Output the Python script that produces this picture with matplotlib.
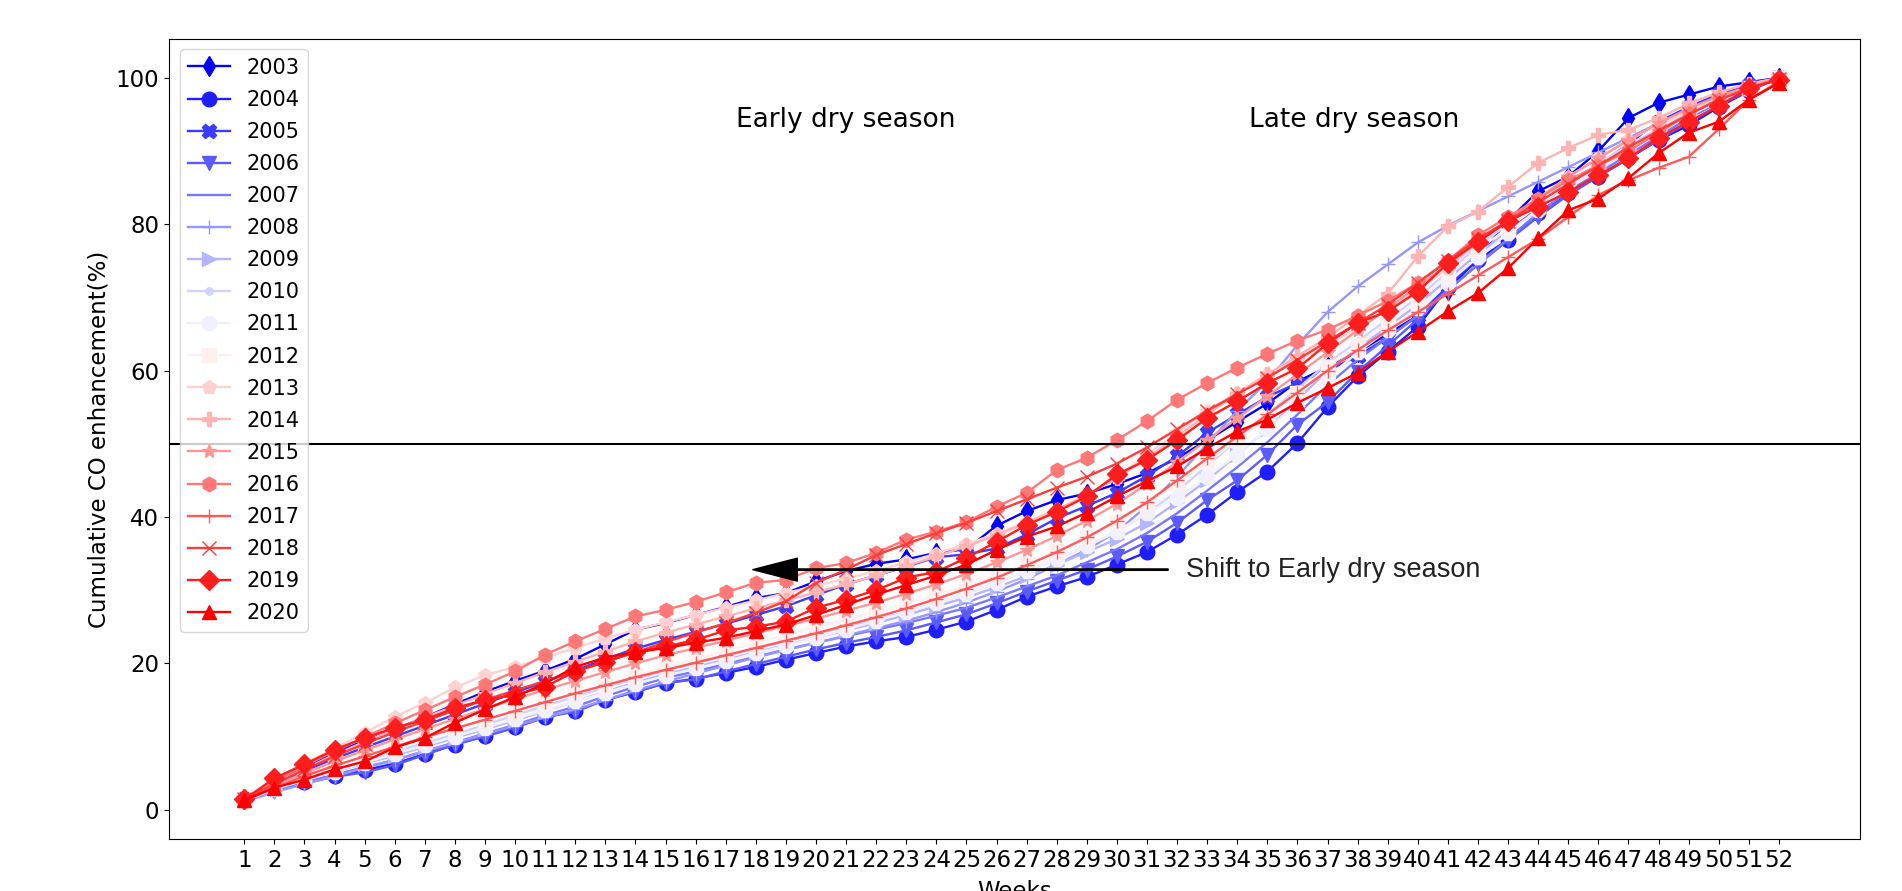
import matplotlib
matplotlib.use("Agg")
import matplotlib.pyplot as plt
import numpy as np

weeks = list(range(1, 53))
years = [str(y) for y in range(2003, 2021)]
markers = ['d', 'o', 'X', 'v', ',', '+', '>', '.', '8', 's', 'p', 'P', '*', 'h', '+', 'x', 'D', '^']

y2003 = [1.5, 3.8, 5.9, 7.8, 9.4, 11.0, 12.6, 14.4, 16.1, 17.6, 19.0, 20.6, 22.6, 24.6, 25.5, 26.6, 27.7, 28.9, 29.6, 31.2,
         32.6, 33.6, 34.2, 35.1, 35.6, 38.8, 40.8, 42.3, 43.2, 44.5, 46.0, 48.0, 50.5, 53.0, 55.5, 58.5, 60.5, 62.5, 65.0, 67.5,
         71.0, 75.5, 80.5, 84.5, 86.5, 90.0, 94.5, 96.6, 97.7, 98.8, 99.4, 100.0]
y2004 = [1.3, 2.8, 3.8, 4.6, 5.4, 6.3, 7.6, 8.9, 10.1, 11.3, 12.6, 13.5, 15.0, 16.1, 17.3, 17.9, 18.7, 19.5, 20.5, 21.4,
         22.3, 23.0, 23.6, 24.6, 25.7, 27.3, 29.1, 30.5, 31.8, 33.5, 35.2, 37.6, 40.3, 43.4, 46.2, 50.1, 55.0, 59.2, 62.6, 66.0,
         71.4, 75.1, 77.9, 81.5, 84.3, 86.5, 89.0, 91.5, 93.5, 96.0, 98.2, 100.0]
y2005 = [1.4, 3.4, 5.3, 7.0, 8.5, 10.0, 11.5, 13.0, 14.5, 16.0, 17.5, 19.0, 20.6, 22.0, 23.2, 24.3, 25.4, 26.6, 27.8, 29.3,
         30.8, 32.0, 33.2, 34.5, 34.9, 35.7, 37.6, 39.8, 41.5, 43.3, 45.6, 48.3, 51.5, 54.0, 56.4, 58.3, 60.0, 62.0, 64.5, 67.5,
         71.5, 75.5, 79.0, 82.5, 85.5, 88.0, 91.0, 94.0, 96.0, 97.8, 99.0, 100.0]
y2006 = [1.2, 2.6, 3.6, 4.5, 5.1, 6.1, 7.5, 8.9, 10.0, 11.2, 12.7, 13.4, 15.0, 16.1, 17.3, 17.8, 18.9, 19.9, 20.9, 21.9,
         22.8, 23.6, 24.5, 25.6, 26.7, 28.2, 29.8, 31.3, 32.8, 34.6, 36.6, 39.2, 42.3, 45.0, 48.5, 52.6, 55.7, 59.8, 63.4, 67.0,
         71.0, 74.5, 77.8, 81.0, 84.0, 86.5, 89.0, 91.5, 94.0, 96.2, 98.3, 100.0]
y2007 = [1.2, 2.7, 3.8, 4.8, 5.8, 6.8, 8.0, 9.2, 10.4, 11.6, 12.9, 14.1, 15.5, 16.8, 18.0, 18.9, 19.9, 20.9, 21.9, 22.8,
         23.7, 24.6, 25.5, 26.5, 27.6, 29.0, 30.5, 32.0, 33.8, 35.6, 37.8, 40.5, 43.6, 46.8, 50.2, 54.0, 58.0, 61.5, 64.5, 67.5,
         71.0, 74.5, 78.0, 81.5, 84.5, 87.0, 89.5, 92.0, 94.5, 96.6, 98.5, 100.0]
y2008 = [1.1, 2.4, 3.5, 4.6, 5.7, 6.8, 8.0, 9.1, 10.3, 11.5, 12.6, 13.7, 15.0, 16.3, 17.5, 18.6, 19.7, 20.8, 21.8, 22.8,
         23.8, 24.8, 25.8, 27.0, 28.3, 29.8, 31.5, 33.5, 35.5, 38.0, 41.5, 45.5, 50.0, 54.5, 58.5, 63.5, 68.0, 71.5, 74.5, 77.5,
         79.8, 81.8, 83.8, 85.8, 87.8, 89.8, 91.8, 93.8, 95.5, 97.2, 98.8, 100.0]
y2009 = [1.3, 2.9, 4.1, 5.2, 6.3, 7.4, 8.6, 9.8, 11.0, 12.2, 13.5, 14.8, 16.1, 17.4, 18.5, 19.5, 20.5, 21.5, 22.5, 23.5,
         24.5, 25.5, 26.6, 27.8, 29.0, 30.4, 31.9, 33.5, 35.2, 37.0, 39.2, 42.0, 45.0, 48.5, 52.0, 56.0, 60.0, 63.0, 66.0, 69.0,
         72.5, 76.0, 79.0, 82.0, 85.0, 87.5, 90.0, 92.5, 94.8, 96.8, 98.5, 100.0]
y2010 = [1.3, 3.0, 4.3, 5.5, 6.7, 7.9, 9.1, 10.3, 11.6, 12.9, 14.2, 15.4, 16.7, 17.9, 19.0, 20.0, 21.0, 22.0, 23.0, 24.0,
         25.0, 26.0, 27.0, 28.2, 29.5, 31.0, 32.6, 34.3, 36.0, 38.0, 40.5, 43.5, 47.0, 50.5, 54.0, 57.5, 61.0, 64.0, 67.0, 70.0,
         73.5, 77.0, 80.0, 83.0, 85.8, 88.3, 90.8, 93.0, 95.2, 97.0, 98.6, 100.0]
y2011 = [1.2, 2.8, 4.0, 5.2, 6.4, 7.6, 8.8, 10.0, 11.2, 12.4, 13.6, 14.8, 16.0, 17.2, 18.3, 19.3, 20.3, 21.4, 22.4, 23.5,
         24.6, 25.8, 27.0, 28.2, 29.5, 31.0, 32.6, 34.3, 36.0, 38.0, 40.6, 42.6, 45.5, 48.5, 52.0, 55.5, 59.0, 62.5, 65.5, 68.5,
         72.0, 75.5, 78.8, 82.0, 85.0, 87.5, 90.0, 92.5, 94.8, 96.8, 98.5, 100.0]
y2012 = [1.3, 3.1, 4.6, 6.0, 7.3, 8.6, 9.9, 11.1, 12.3, 13.5, 14.7, 15.9, 17.1, 18.3, 19.5, 20.6, 21.7, 22.8, 23.9, 25.0,
         26.0, 27.0, 28.1, 29.3, 30.6, 32.0, 33.6, 35.3, 37.2, 39.3, 41.8, 44.5, 47.5, 50.5, 53.5, 57.0, 60.5, 63.5, 66.5, 69.5,
         73.0, 76.5, 79.5, 82.5, 85.5, 88.0, 90.5, 92.8, 95.0, 97.0, 98.6, 100.0]
y2013 = [1.5, 4.0, 6.3, 8.4, 10.5, 12.7, 14.6, 16.7, 18.4, 19.5, 20.8, 22.1, 23.4, 24.6, 25.6, 26.6, 27.6, 28.6, 29.6, 30.6,
         31.6, 32.6, 33.8, 35.0, 36.3, 37.7, 39.3, 41.0, 43.0, 45.5, 48.5, 51.5, 54.5, 57.0, 59.5, 61.5, 63.5, 65.8, 68.3, 71.0,
         74.0, 77.5, 80.5, 83.5, 86.5, 89.0, 91.5, 93.5, 95.5, 97.2, 98.7, 100.0]
y2014 = [1.4, 3.6, 5.6, 7.5, 9.3, 11.0, 12.6, 14.2, 15.8, 17.3, 18.8, 20.2, 21.6, 23.0, 24.2, 25.3, 26.4, 27.5, 28.6, 29.7,
         30.8, 32.0, 33.3, 34.6, 36.0, 37.5, 39.2, 41.0, 43.0, 45.3, 48.0, 51.0, 54.0, 56.8, 59.5, 62.0, 64.5, 67.5, 70.5, 75.6,
         79.7, 81.7, 85.1, 88.4, 90.4, 92.2, 92.9, 94.5, 96.5, 98.0, 99.2, 100.0]
y2015 = [1.3, 3.3, 5.0, 6.6, 8.1, 9.6, 11.0, 12.4, 13.8, 15.1, 16.4, 17.6, 18.8, 20.0, 21.1, 22.1, 23.1, 24.1, 25.1, 26.1,
         27.2, 28.3, 29.5, 30.8, 32.2, 33.8, 35.5, 37.4, 39.5, 41.8, 44.5, 47.5, 50.5, 53.5, 56.5, 59.5, 62.5, 65.5, 68.5, 71.5,
         74.5, 77.5, 80.5, 83.5, 86.5, 89.0, 91.5, 93.8, 95.8, 97.5, 98.8, 100.0]
y2016 = [1.5, 3.9, 6.0, 8.0, 9.9, 11.8, 13.6, 15.4, 17.1, 18.9, 21.2, 23.0, 24.7, 26.4, 27.3, 28.4, 29.7, 31.0, 31.4, 33.0,
         33.7, 35.1, 36.9, 38.0, 39.3, 41.4, 43.3, 46.4, 48.1, 50.5, 53.1, 56.0, 58.3, 60.4, 62.3, 64.1, 65.6, 67.5, 69.5, 72.0,
         75.0, 78.5, 81.0, 83.5, 86.0, 88.0, 90.0, 92.5, 95.0, 97.0, 98.5, 100.0]
y2017 = [1.2, 3.0, 4.6, 6.0, 7.3, 8.6, 9.9, 11.1, 12.3, 13.5, 14.7, 15.9, 17.0, 18.1, 19.1, 20.1, 21.1, 22.1, 23.1, 24.1,
         25.2, 26.3, 27.5, 28.8, 30.2, 31.7, 33.4, 35.2, 37.2, 39.5, 42.0, 45.0, 48.0, 51.0, 54.0, 57.0, 60.0, 62.8, 65.5, 68.0,
         70.5, 73.0, 75.5, 78.0, 81.0, 84.0, 86.0, 87.7, 89.2, 93.0, 97.0, 99.5]
y2018 = [1.4, 3.5, 5.5, 7.3, 9.0, 10.6, 12.1, 13.6, 15.0, 16.3, 17.6, 18.9, 20.2, 21.5, 22.9, 24.2, 25.5, 26.9, 28.5, 31.0,
         32.8, 34.8, 36.3, 37.8, 39.2, 40.8, 42.4, 44.0, 45.5, 47.3, 49.5, 52.0, 54.5, 56.8, 59.0, 61.5, 64.0, 66.5, 69.0, 72.0,
         75.0, 78.0, 80.5, 83.0, 85.5, 88.0, 90.5, 92.8, 95.0, 97.0, 98.6, 99.8]
y2019 = [1.4, 4.3, 6.2, 8.2, 9.8, 11.2, 12.3, 13.9, 15.0, 15.7, 16.8, 18.9, 20.2, 21.6, 22.3, 23.2, 24.5, 25.0, 25.7, 27.6,
         28.7, 30.0, 31.7, 32.5, 34.4, 36.6, 38.9, 40.7, 42.8, 45.8, 47.8, 50.5, 53.5, 55.8, 58.3, 60.3, 63.7, 66.5, 68.1, 70.8,
         74.7, 77.6, 80.4, 82.4, 84.4, 86.7, 89.0, 91.8, 94.0, 96.1, 98.6, 99.7]
y2020 = [1.3, 3.0, 4.1, 5.5, 6.6, 8.5, 9.8, 11.9, 13.7, 15.4, 17.3, 19.5, 20.8, 21.5, 22.1, 22.8, 23.5, 24.4, 25.3, 26.6,
         28.0, 29.4, 30.7, 32.0, 33.5, 35.5, 37.3, 38.7, 40.6, 42.8, 44.9, 46.9, 49.4, 51.7, 53.3, 55.6, 57.6, 59.7, 62.6, 65.3,
         68.1, 70.6, 74.0, 78.1, 81.9, 83.5, 86.3, 89.7, 92.5, 94.0, 97.0, 99.3]

series = [y2003, y2004, y2005, y2006, y2007, y2008, y2009, y2010, y2011, y2012,
          y2013, y2014, y2015, y2016, y2017, y2018, y2019, y2020]

fig = plt.figure(figsize=(19.02, 8.91), dpi=100)
ax = fig.add_axes([0.0889, 0.0584, 0.8891, 0.8978])

cmap = plt.get_cmap('bwr')
colors = cmap(np.linspace(0, 1, len(years)))

for vals, yr, mk, col in zip(series, years, markers, colors):
    ax.plot(weeks, vals, marker=mk, color=col, label=yr, linewidth=1.7, markersize=10.5)

ax.axhline(50, color='black', linewidth=1.5)

ax.set_xlim(-1.5, 54.7)
ax.set_ylim(-4, 105.3)
ax.set_xticks(weeks)
ax.set_xticklabels([str(w) for w in weeks])
ax.tick_params(axis='both', labelsize=16.5)
ax.set_ylabel('Cumulative CO enhancement(%)', fontsize=16.5)
ax.set_xlabel('Weeks', fontsize=16.5, labelpad=6)

ax.text(21.0, 94.2, 'Early dry season', fontsize=19, ha='center', va='center')
ax.text(37.9, 94.2, 'Late dry season', fontsize=19, ha='center', va='center')

ax.annotate('', xy=(17.9, 32.8), xytext=(31.7, 32.8),
            arrowprops=dict(facecolor='black', edgecolor='black', width=1.0,
                            headwidth=16.5, headlength=32, shrink=0))
ax.text(32.3, 32.8, 'Shift to Early dry season', fontsize=19.5, ha='left', va='center',
        family='Liberation Sans', color='#222222')

ax.legend(loc='upper left', fontsize=15, labelspacing=0.58, borderaxespad=0.5)

fig.savefig('out.png', dpi=100)
